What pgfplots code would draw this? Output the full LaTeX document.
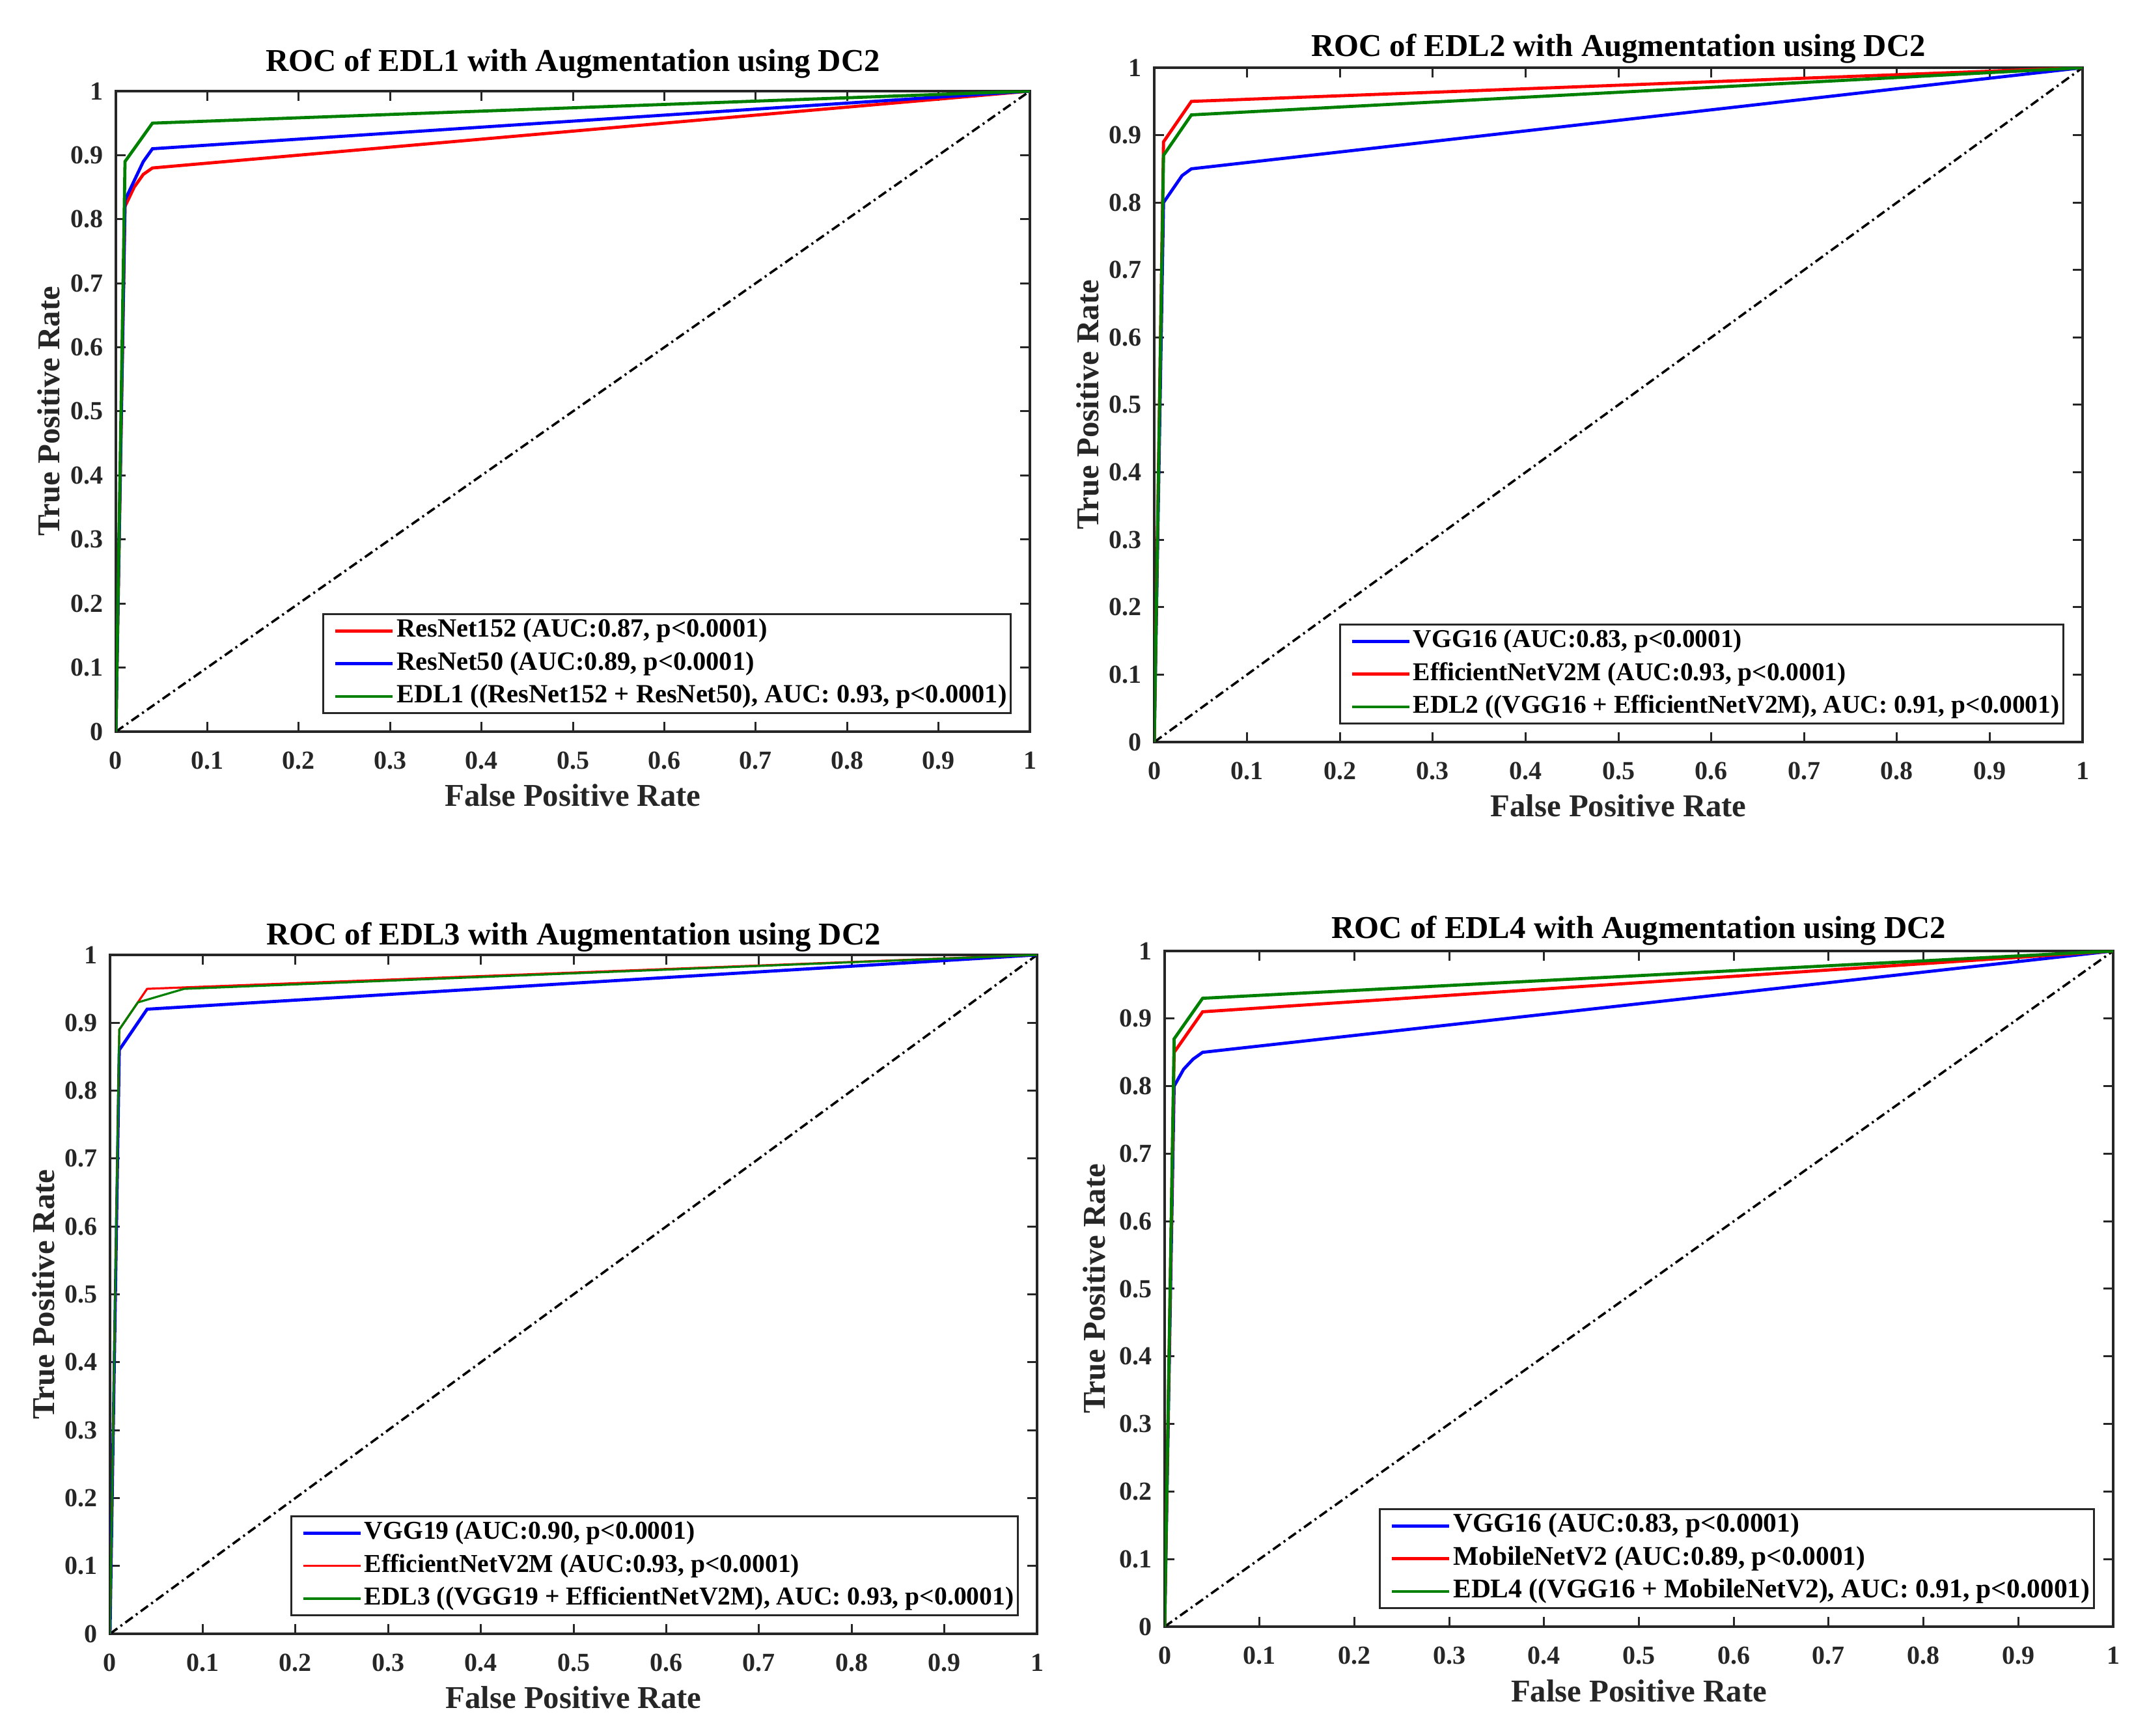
\documentclass[border=0pt]{standalone}
\usepackage{fontspec}
\setmainfont{Liberation Serif}
\usepackage{pgfplots}
\pgfplotsset{compat=1.18}
\definecolor{axgray}{RGB}{38,38,38}
\definecolor{mgreen}{RGB}{0,128,0}

\pgfplotsset{
  roc/.style={
    scale only axis,
    xmin=0, xmax=1, ymin=0, ymax=1,
    xtick={0,0.1,0.2,0.3,0.4,0.5,0.6,0.7,0.8,0.9,1},
    ytick={0,0.1,0.2,0.3,0.4,0.5,0.6,0.7,0.8,0.9,1},
    axis line style={axgray, line width=1pt},
    tick align=inside, major tick length=3.75pt,
    every tick/.style={axgray, line width=0.75pt},
    tick label style={font=\fontsize{10}{11}\selectfont\bfseries, text=axgray},
    /pgf/number format/assume math mode=true,
    xticklabel={\pgfmathprintnumber{\tick}},
    yticklabel={\pgfmathprintnumber{\tick}},
    xticklabel style={anchor=base, yshift=-14.5pt},
    yticklabel style={xshift=-1.25pt},
    title style={font=\fontsize{12.2}{14}\selectfont\bfseries, at={(axis description cs:0.5,1)}, anchor=base, yshift=1.5pt},
    label style={font=\fontsize{12.2}{14}\selectfont\bfseries, text=axgray},
    xlabel style={at={(axis description cs:0.5,0)}, anchor=base, yshift=-28.75pt},
    xlabel={False Positive Rate}, ylabel={True Positive Rate},
    legend style={at={(axis description cs:1,0)}, anchor=south east, xshift=-7pt, yshift=6.75pt,
      draw=axgray, line width=0.75pt, font=\fontsize{10.1}{11}\selectfont\bfseries,
      inner sep=0.5pt, row sep=0.9pt,
      nodes={inner sep=1pt, text height=7.2pt, text depth=2.5pt}},
    legend cell align=left,
    legend image code/.code={\path (0pt,0pt); \draw[#1] (3.5pt,0pt) -- (25.5pt,0pt);},
    every axis plot/.append style={line width=1.2pt},
  },
  diag/.style={black, line width=0.9pt, dash pattern=on 3.5pt off 1.5pt on 0.8pt off 1.5pt, forget plot},
}

\begin{document}
\begin{tikzpicture}
\path (0pt,0pt) rectangle (819.5pt,666.75pt);

% EDL1
\begin{axis}[roc, at={(44.5pt,385.75pt)}, anchor=south west, width=351pt, height=246pt,
  title={ROC of EDL1 with Augmentation using DC2},
  ylabel style={at={(axis description cs:-0.0613,0.5)}, anchor=base}]
\addplot[diag] coordinates {(0,0) (1,1)};
\addplot[red] coordinates {(0,0) (0.01,0.82) (0.02,0.85) (0.03,0.87) (0.04,0.88) (1,1)};
\addplot[blue] coordinates {(0,0) (0.01,0.83) (0.02,0.86) (0.03,0.89) (0.04,0.91) (1,1)};
\addplot[mgreen] coordinates {(0,0) (0.01,0.89) (0.04,0.95) (1,1)};
\legend{{ResNet152 (AUC:0.87, p<0.0001)}, {ResNet50 (AUC:0.89, p<0.0001)}, {EDL1 ((ResNet152 + ResNet50), AUC: 0.93, p<0.0001)}}
\end{axis}

% EDL2
\begin{axis}[roc, at={(443.25pt,381.75pt)}, anchor=south west, width=356.5pt, height=259pt,
  title={ROC of EDL2 with Augmentation using DC2}, title style={yshift=-3.1pt},
  legend style={font=\fontsize{9.85}{11}\selectfont\bfseries},
  ylabel style={at={(axis description cs:-0.0603,0.5)}, anchor=base}]
\addplot[diag] coordinates {(0,0) (1,1)};
\addplot[blue] coordinates {(0,0) (0.01,0.80) (0.02,0.82) (0.03,0.84) (0.04,0.85) (1,1)};
\addplot[red] coordinates {(0,0) (0.01,0.89) (0.04,0.95) (1,1)};
\addplot[mgreen] coordinates {(0,0) (0.01,0.87) (0.04,0.93) (1,1)};
\legend{{VGG16 (AUC:0.83, p<0.0001)}, {EfficientNetV2M (AUC:0.93, p<0.0001)}, {EDL2 ((VGG16 + EfficientNetV2M), AUC: 0.91, p<0.0001)}}
\end{axis}

% EDL3
\begin{axis}[roc, at={(42.25pt,39.25pt)}, anchor=south west, width=356pt, height=260.75pt,
  title={ROC of EDL3 with Augmentation using DC2}, title style={yshift=-3.7pt},
  legend style={font=\fontsize{9.9}{11}\selectfont\bfseries},
  ylabel style={at={(axis description cs:-0.0597,0.5)}, anchor=base}]
\addplot[diag] coordinates {(0,0) (1,1)};
\addplot[blue] coordinates {(0,0) (0.01,0.86) (0.04,0.92) (1,1)};
\addplot[red, line width=0.8pt] coordinates {(0,0) (0.01,0.89) (0.04,0.95) (1,1)};
\addplot[mgreen, line width=0.8pt] coordinates {(0,0) (0.01,0.89) (0.03,0.93) (0.08,0.95) (1,1)};
\legend{{VGG19 (AUC:0.90, p<0.0001)}, {EfficientNetV2M (AUC:0.93, p<0.0001)}, {EDL3 ((VGG19 + EfficientNetV2M), AUC: 0.93, p<0.0001)}}
\end{axis}

% EDL4
\begin{axis}[roc, at={(447.25pt,42pt)}, anchor=south west, width=364.25pt, height=259.5pt,
  title={ROC of EDL4 with Augmentation using DC2}, title style={yshift=-2.6pt},
  legend style={font=\fontsize{10.37}{11}\selectfont\bfseries},
  ylabel style={at={(axis description cs:-0.0625,0.5)}, anchor=base}]
\addplot[diag] coordinates {(0,0) (1,1)};
\addplot[blue] coordinates {(0,0) (0.01,0.80) (0.02,0.825) (0.03,0.84) (0.04,0.85) (1,1)};
\addplot[red] coordinates {(0,0) (0.01,0.85) (0.04,0.91) (1,1)};
\addplot[mgreen] coordinates {(0,0) (0.01,0.87) (0.04,0.93) (1,1)};
\legend{{VGG16 (AUC:0.83, p<0.0001)}, {MobileNetV2 (AUC:0.89, p<0.0001)}, {EDL4 ((VGG16 + MobileNetV2), AUC: 0.91, p<0.0001)}}
\end{axis}
\end{tikzpicture}
\end{document}
